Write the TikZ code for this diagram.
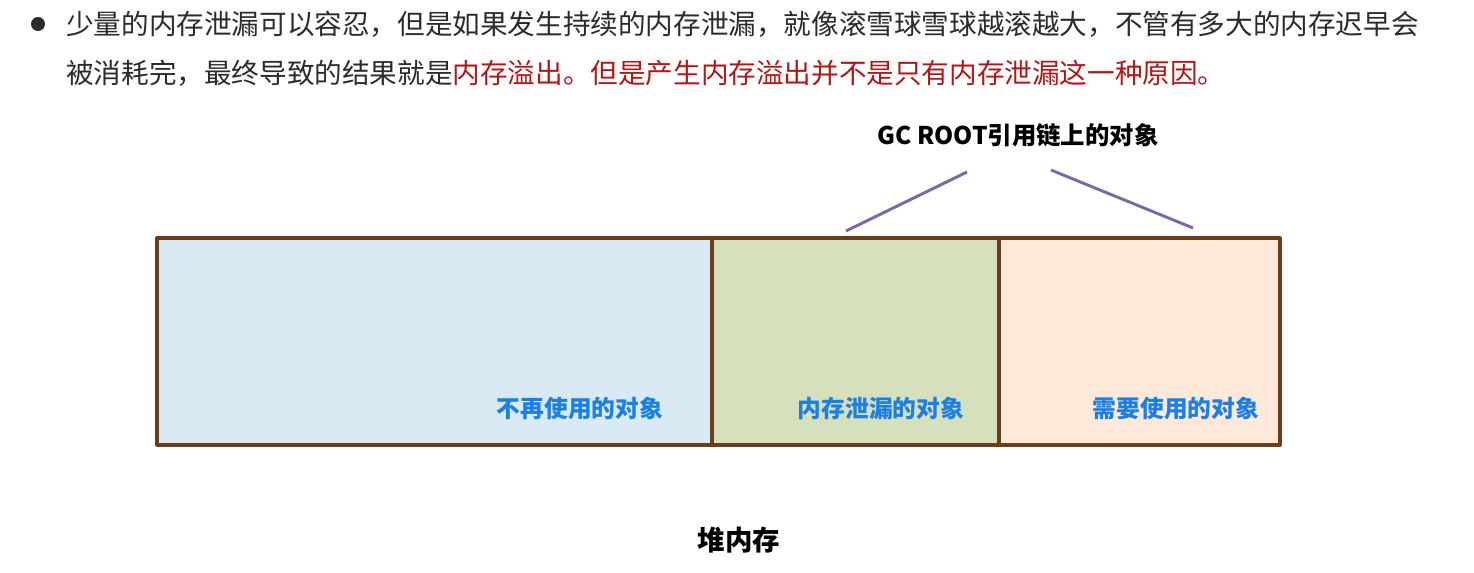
\documentclass[tikz,border=0pt]{standalone}
\usepackage{fontspec}
\newfontfamily\cjk{Noto Sans CJK SC}
\definecolor{txt}{HTML}{2B2B2B}
\definecolor{redtxt}{HTML}{B01818}
\definecolor{frame}{HTML}{6A3D1C}
\definecolor{fillA}{HTML}{DAEAF4}
\definecolor{fillB}{HTML}{D7E0BC}
\definecolor{fillC}{HTML}{FEE9DA}
\definecolor{bluelab}{HTML}{1A7FE6}
\definecolor{purp}{HTML}{7A68A8}
\tikzset{
  para/.style={anchor=west, inner sep=0pt, text=txt, font=\cjk\fontsize{20.7pt}{24pt}\selectfont},
  region/.style={draw=frame, line width=2.4pt, inner sep=0pt, line join=round},
  objlab/.style={inner sep=0pt, text=bluelab, font=\cjk\bfseries\fontsize{17.8pt}{20pt}\selectfont},
  title/.style={inner sep=0pt, text=black, font=\cjk\bfseries\fontsize{18.3pt}{21pt}\selectfont},
  heap/.style={inner sep=0pt, text=black, font=\cjk\bfseries\fontsize{20.6pt}{24pt}\selectfont},
  link/.style={draw=purp, line width=2.2pt},
}
\begin{document}
\begin{tikzpicture}[x=0.75pt,y=-0.75pt]
\useasboundingbox[fill=white] (0,0) rectangle (1474,572);
% bullet
\fill[txt] (38,24) circle (7);
\node[para] (l1) at (66,24) {少量的内存泄漏可以容忍，但是如果发生持续的内存泄漏，就像滚雪球雪球越滚越大，不管有多大的内存迟早会};
\node[para] (l2) at (66,73) {被消耗完，最终导致的结果就是\textcolor{redtxt}{内存溢出。但是产生内存溢出并不是只有内存泄漏这一种原因。}};
% regions
\filldraw[region, fill=fillA] (157,238) rectangle (712,445);
\filldraw[region, fill=fillB] (712,238) rectangle (999,445);
\filldraw[region, fill=fillC] (999,238) rectangle (1280,445);
\node[inner sep=0pt, minimum width=555*0.75pt, minimum height=207*0.75pt, anchor=north west] (rA) at (157,238) {};
\node[inner sep=0pt, minimum width=287*0.75pt, minimum height=207*0.75pt, anchor=north west] (rB) at (712,238) {};
\node[inner sep=0pt, minimum width=281*0.75pt, minimum height=207*0.75pt, anchor=north west] (rC) at (999,238) {};
\node[objlab] (tA) at (580,408) {不再使用的对象};
\node[objlab] (tB) at (881,408) {内存泄漏的对象};
\node[objlab] (tC) at (1176,408) {需要使用的对象};
% title and links
\node[title] (gc) at (1018,135) {GC ROOT引用链上的对象};
\coordinate (a1) at (967,172);
\coordinate (a2) at (846,231);
\coordinate (b1) at (1051,170);
\coordinate (b2) at (1193,228);
\draw[link] (a1) -- (a2);
\draw[link] (b1) -- (b2);
\node[heap] (heap) at (739,540) {堆内存};
\end{tikzpicture}
\end{document}
